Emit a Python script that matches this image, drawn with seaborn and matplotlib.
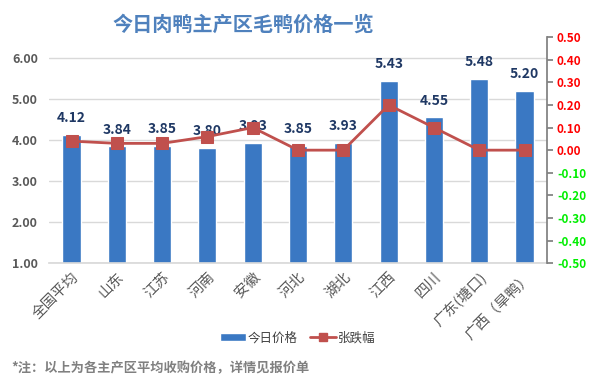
import matplotlib
matplotlib.use("Agg")
import matplotlib.pyplot as plt
import seaborn as sns
import pandas as pd
from matplotlib.patches import Patch
from matplotlib.lines import Line2D

categories = ["全国平均", "山东", "江苏", "河南", "安徽", "河北", "湖北", "江西", "四川", "广东(塘口)", "广西（旱鸭）"]
prices = [4.12, 3.84, 3.85, 3.80, 3.93, 3.85, 3.93, 5.43, 4.55, 5.48, 5.20]
changes = [0.04, 0.03, 0.03, 0.06, 0.10, 0.00, 0.00, 0.20, 0.10, 0.00, 0.00]
left_ticks = [1, 2, 3, 4, 5, 6]
right_ticks = [0.5, 0.4, 0.3, 0.2, 0.1, 0.0, -0.1, -0.2, -0.3, -0.4, -0.5]

sns.set_theme(style="white")
plt.rcParams['font.family'] = ['Noto Sans CJK SC', 'DejaVu Sans']

df = pd.DataFrame({"cat": categories, "price": prices, "chg": changes})

fig = plt.figure(figsize=(5.89, 3.87), dpi=100)
ax = fig.add_axes([0.083, 0.320, 0.846, 0.584])

sns.barplot(data=df, x="cat", y="price", ax=ax, color="#3a78c3", width=0.4, saturation=1)
ax.set_ylim(1, 6.5)
ax.set_yticks(left_ticks)
ax.set_yticklabels([f"{v:.2f}" for v in left_ticks], color="#595959", fontsize=9, fontweight="bold")
ax.yaxis.grid(True, color="#d9d9d9", linewidth=1)
ax.set_axisbelow(True)
ax.set_xlabel("")
ax.set_ylabel("")
ax.set_xticks(range(len(categories)))
ax.set_xticklabels(categories, rotation=45, ha="right", rotation_mode="anchor",
                   color="#595959", fontsize=10.5)
ax.tick_params(axis="x", length=0, pad=5)
ax.tick_params(axis="y", length=0, pad=8)
for s in ["top", "left", "right"]:
    ax.spines[s].set_visible(False)
ax.spines["bottom"].set_color("#d9d9d9")
ax.set_xlim(-0.5, len(categories) - 0.5)

for i, v in enumerate(prices):
    ax.annotate(f"{v:.2f}", (i, v), xytext=(0, 7), textcoords="offset points",
                ha="center", va="bottom", color="#1f3864", fontsize=10, fontweight="bold")

ax2 = ax.twinx()
sns.lineplot(data=df, x="cat", y="chg", ax=ax2, color="#c0504d", linewidth=2,
             marker="s", markersize=8, markeredgecolor="#c0504d", sort=False)
ax2.set_ylim(-0.5, 0.5)
ax2.set_yticks(right_ticks)
ax2.set_yticklabels([f"{v:.2f}" for v in right_ticks], fontsize=8.5, fontweight="bold")
for lbl, v in zip(ax2.get_yticklabels(), right_ticks):
    lbl.set_color("#ff0000" if v >= 0 else "#00ee00")
ax2.set_ylabel("")
ax2.set_xlabel("")
for s in ["top", "left", "bottom"]:
    ax2.spines[s].set_visible(False)
ax2.spines["right"].set_color("#808080")
ax2.tick_params(axis="y", length=4, color="#808080", pad=3)
ax2.set_xlim(-0.5, len(categories) - 0.5)

handles = [Patch(facecolor="#3a78c3", label="今日价格"),
           Line2D([0], [0], color="#c0504d", lw=2, marker="s", markersize=6, label="张跌幅")]
fig.legend(handles=handles, loc="center", bbox_to_anchor=(0.505, 0.127), ncol=2, frameon=False,
           fontsize=9, labelcolor="#404040", handlelength=2.1, handleheight=0.6,
           columnspacing=1.0, handletextpad=0.1)

fig.text(0.413, 0.937, "今日肉鸭主产区毛鸭价格一览", ha="center", va="center",
         fontsize=14.5, fontweight="bold", color="#4f81bd")
fig.text(0.02, 0.048, "*注：以上为各主产区平均收购价格，详情见报价单", ha="left", va="center",
         fontsize=9.5, fontweight="bold", color="#808080")

fig.savefig("out.png", dpi=100)
